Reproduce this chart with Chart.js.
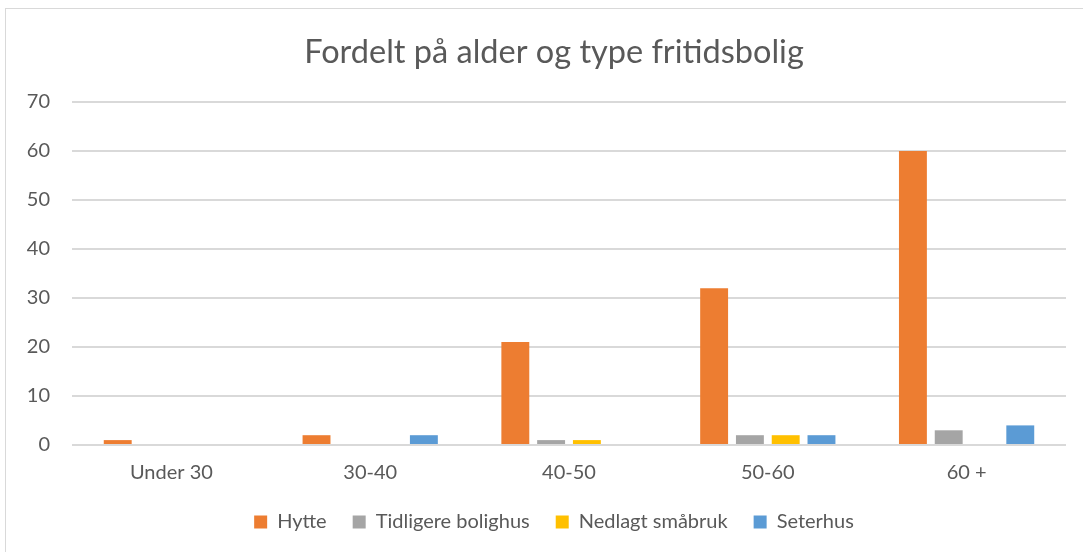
<!DOCTYPE html>
<html>
<head>
<meta charset="utf-8">
<script src="https://cdn.jsdelivr.net/npm/chart.js@4"></script>
<style>
  html, body { margin: 0; padding: 0; background: #fff; }
  #wrap { position: absolute; left: 0; top: 0; width: 1083px; height: 552px; }
  #frame { position: absolute; left: 5px; top: 8px; width: 1090px; height: 560px; border: 1px solid #d9d9d9; box-sizing: border-box; }
</style>
</head>
<body>
<div id="frame"></div>
<div id="wrap"><canvas id="chart" width="1083" height="552"></canvas></div>
<script>
const categories = ["Under 30", "30-40", "40-50", "50-60", "60 +"]
const hytte = [1, 2, 21, 32, 60]
const tidligereBolighus = [0, 0, 1, 2, 3]
const nedlagtSmabruk = [0, 0, 1, 2, 0]
const seterhus = [0, 2, 0, 2, 4]

const grey = "#595959"

const ctx = document.getElementById("chart").getContext("2d")
new Chart(ctx, {
  type: "bar",
  data: {
    labels: categories,
    datasets: [
      { label: "Hytte", data: hytte, backgroundColor: "#ED7D31" },
      { label: "Tidligere bolighus", data: tidligereBolighus, backgroundColor: "#A5A5A5" },
      { label: "Nedlagt småbruk", data: nedlagtSmabruk, backgroundColor: "#FFC000" },
      { label: "Seterhus", data: seterhus, backgroundColor: "#5B9BD5" }
    ]
  },
  options: {
    responsive: false,
    animation: false,
    categoryPercentage: 0.72,
    barPercentage: 0.78,
    // the frame runs past the right edge, so title and legend sit a bit right of the plot centre
    layout: { padding: { left: 20, right: -5, top: 0, bottom: 10 } },
    plugins: {
      title: {
        display: true,
        text: "Fordelt på alder og type fritidsbolig",
        color: grey,
        font: { family: "Lato", size: 32.5, weight: "normal" },
        padding: { top: 33, bottom: 30 }
      },
      legend: {
        position: "bottom",
        labels: {
          color: grey,
          font: { family: "Lato", size: 20 },
          boxWidth: 13,
          boxHeight: 13,
          padding: 26
        }
      },
      tooltip: { enabled: false }
    },
    scales: {
      x: {
        grid: { display: false, drawTicks: false },
        border: { display: false },
        ticks: { color: grey, font: { family: "Lato", size: 20 }, padding: 16 },
        afterFit: (scale) => { scale.height = 41 }
      },
      y: {
        min: 0,
        max: 70,
        ticks: { stepSize: 10, color: grey, font: { family: "Lato", size: 20 }, padding: 22 },
        grid: { color: "#d9d9d9", lineWidth: 2, drawTicks: false },
        border: { display: false },
        afterFit: (scale) => { scale.width = 52 }
      },
      spacer: {
        type: "linear",
        position: "right",
        grid: { display: false, drawTicks: false },
        border: { display: false },
        ticks: { display: false },
        afterFit: (scale) => { scale.width = 22 }
      }
    }
  }
})
</script>
</body>
</html>
